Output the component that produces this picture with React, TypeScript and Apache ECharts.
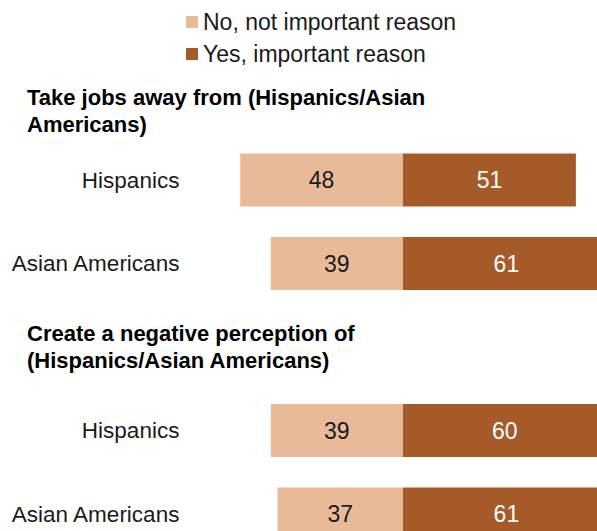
import React, { useEffect, useRef } from "react";
import * as echarts from "echarts";

const groups = ["Take jobs away from (Hispanics/Asian\nAmericans)", "Create a negative perception of\n(Hispanics/Asian Americans)"];
const categories = ["Hispanics", "Asian Americans"];
const seriesNames = ["No, not important reason", "Yes, important reason"];
const noJobs = [48, 39];
const yesJobs = [51, 61];
const noPerception = [39, 37];
const yesPerception = [60, 61];

const LIGHT = "#E8BA98";
const DARK = "#A65A28";
const FONT = "'Liberation Sans', Arial, sans-serif";

export default function App() {
  const ref = useRef<HTMLDivElement>(null);
  useEffect(() => {
    document.body.style.margin = "0";
    const chart = echarts.init(ref.current!, null, { renderer: "svg" });
    const grids = [
      { left: 189.4, right: 19.7, top: 138.25, height: 167 },
      { left: 189.4, right: 19.7, top: 388.75, height: 167 },
    ];
    const xAxes = grids.map((_, i) => ({
      type: "value",
      gridIndex: i,
      min: -63,
      max: 70,
      show: false,
    }));
    const yAxes = grids.map((_, i) => ({
      type: "category",
      gridIndex: i,
      inverse: true,
      data: categories,
      axisLine: { show: false },
      axisTick: { show: false },
      axisLabel: { margin: 10, fontSize: 22.5, color: "#1a1a1a", fontFamily: FONT },
    }));
    const mk = (name: string, data: number[], i: number, color: string, labelColor: string, neg: boolean) => ({
      name,
      type: "bar",
      xAxisIndex: i,
      yAxisIndex: i,
      stack: "s" + i,
      barWidth: 53,
      data: data.map((v) => (neg ? -v : v)),
      itemStyle: { color },
      label: {
        show: true,
        position: "inside",
        fontSize: 23,
        fontFamily: FONT,
        color: labelColor,
        formatter: (p: any) => String(Math.abs(p.value)),
      },
    });
    chart.setOption({
      animation: false,
      title: groups.map((t, i) => ({
        text: t,
        left: 27,
        top: i === 0 ? 83.5 : 319.5,
        textStyle: { fontSize: 22, fontWeight: "bold", lineHeight: 27.5, color: "#000", fontFamily: FONT },
        padding: 0,
      })),
      legend: {
        orient: "vertical",
        left: 186,
        top: 10.5,
        itemWidth: 12,
        itemHeight: 12,
        itemGap: 9,
        icon: "rect",
        data: seriesNames,
        textStyle: { fontSize: 23, lineHeight: 23, color: "#1a1a1a", fontFamily: FONT },
        padding: 0,
      },
      grid: grids,
      xAxis: xAxes,
      yAxis: yAxes,
      series: [
        mk(seriesNames[0], noJobs, 0, LIGHT, "#1a1a1a", true),
        mk(seriesNames[1], yesJobs, 0, DARK, "#ffffff", false),
        mk(seriesNames[0], noPerception, 1, LIGHT, "#1a1a1a", true),
        mk(seriesNames[1], yesPerception, 1, DARK, "#ffffff", false),
      ],
    });
    return () => chart.dispose();
  }, []);
  return <div ref={ref} style={{ position: "absolute", left: 0, top: 0, width: 660, height: 580 }} />;
}
